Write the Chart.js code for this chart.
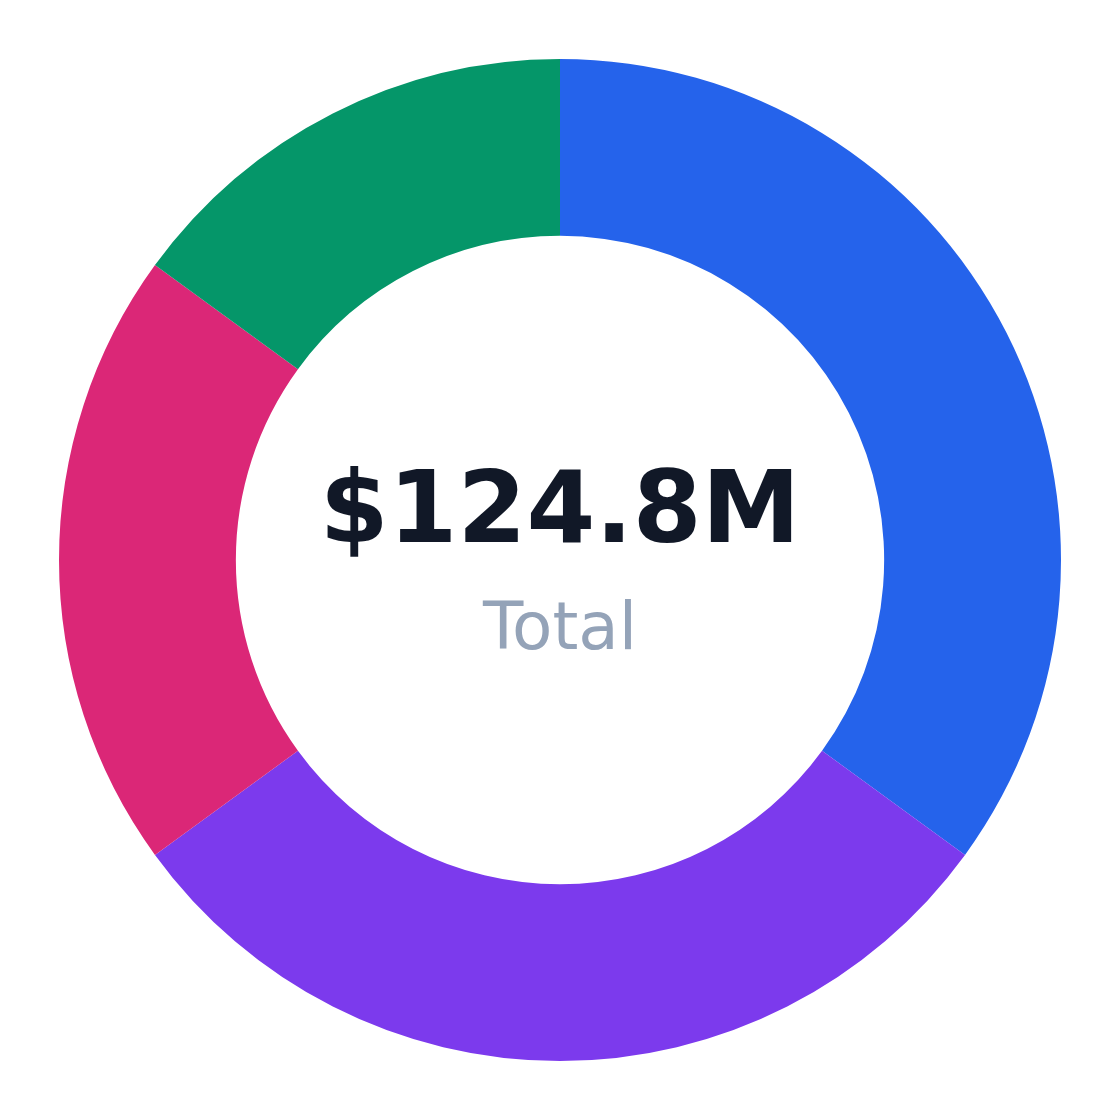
<!DOCTYPE html>
<html>
<head>
<meta charset="utf-8">
<title>Total doughnut</title>
<script src="https://cdn.jsdelivr.net/npm/chart.js@4"></script>
<style>
    html, body { margin: 0; padding: 0; background: #ffffff; }
    #wrap { width: 1120px; height: 1120px; }
</style>
</head>
<body>
<div id="wrap"><canvas id="chart" width="1120" height="1120"></canvas></div>
<script>
// segment names and values ($M), going clockwise from 12 o'clock
const labels = ['Segment A', 'Segment B', 'Segment C', 'Segment D'];
const values = [43.7, 37.4, 25.0, 18.7];
const colors = ['#2563eb', '#7c3aed', '#db2777', '#059669'];

// text in the hole
const TOTAL_TEXT = '$124.8M';
const TOTAL_LABEL = 'Total';

// draws the total in the middle of the doughnut
const centerText = {
    id: 'centerText',
    afterDraw: function(chart) {
        const ctx = chart.ctx;
        const arc = chart.getDatasetMeta(0).data[0];
        const x = arc.x;
        const y = arc.y;
        ctx.save();
        ctx.textAlign = 'center';
        ctx.textBaseline = 'alphabetic';
        ctx.fillStyle = '#111827';
        ctx.font = 'bold 99px "DejaVu Sans"';
        ctx.fillText(TOTAL_TEXT, x, y - 18);
        ctx.fillStyle = '#94a3b8';
        ctx.font = '66px "DejaVu Sans"';
        ctx.fillText(TOTAL_LABEL, x, y + 89);
        ctx.restore();
    }
};

new Chart(document.getElementById('chart'), {
    type: 'doughnut',
    data: {
        labels: labels,
        datasets: [{
            data: values,
            backgroundColor: colors,
            borderWidth: 0,
            hoverOffset: 0
        }]
    },
    options: {
        responsive: false,
        animation: false,
        cutout: '64.7%',
        layout: { padding: 59 },
        plugins: {
            legend: { display: false },
            tooltip: { enabled: false }
        }
    },
    plugins: [centerText]
});
</script>
</body>
</html>
